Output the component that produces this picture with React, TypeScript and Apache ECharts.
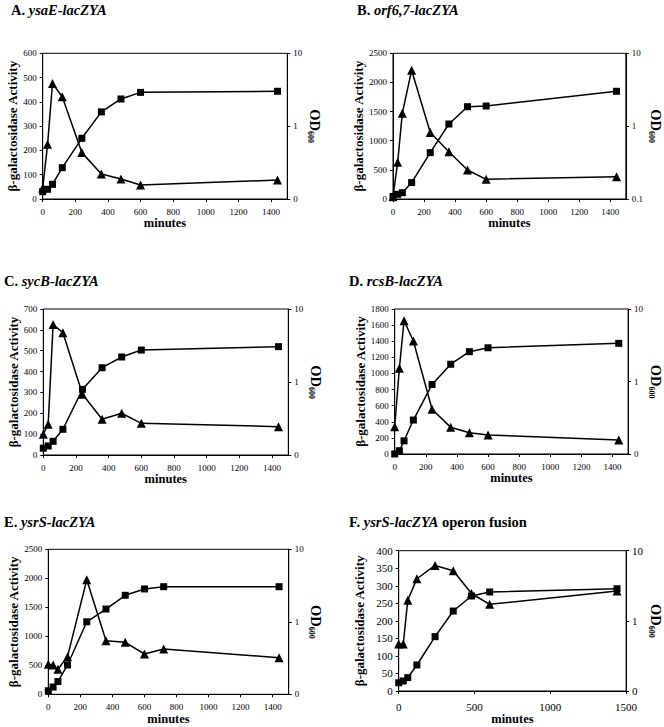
import React, { useEffect, useRef } from "react";
import * as echarts from "echarts";

// ---- data ----
const TIMES = [0, 30, 60, 120, 240, 360, 480, 600, 1440];
const TIMES_E = [0, 30, 60, 120, 240, 360, 480, 600, 720, 1440];

const A_BGAL = [45, 225, 476, 421, 191, 103, 82, 58, 78];
const A_OD = [0.126, 0.136, 0.159, 0.269, 0.681, 1.57, 2.36, 2.91, 3.01];

const B_BGAL = [40, 629, 1470, 2210, 1140, 812, 498, 338, 383];
const B_OD = [0.108, 0.116, 0.122, 0.168, 0.433, 1.07, 1.85, 1.89, 3.01];

const C_BGAL = [100, 148, 626, 586, 291, 171, 200, 152, 136];
const C_OD = [0.124, 0.133, 0.154, 0.225, 0.794, 1.57, 2.2, 2.74, 3.05];

const D_BGAL = [339, 1064, 1655, 1403, 555, 331, 264, 236, 174];
const D_OD = [0.1, 0.111, 0.152, 0.294, 0.91, 1.73, 2.58, 2.92, 3.36];

const E_BGAL = [517, 506, 431, 649, 1975, 925, 897, 695, 782, 632];
const E_OD = [0.112, 0.126, 0.15, 0.254, 1.0, 1.5, 2.32, 2.84, 3.05, 3.05];

const F_BGAL = [134, 134, 259, 320, 358, 343, 278, 247, 285];
const F_OD = [0.131, 0.139, 0.155, 0.235, 0.595, 1.38, 2.26, 2.58, 2.87];

const LEFT_NAME = "β-galactosidase Activity";
const X_NAME = "minutes";

const FONT = '"Liberation Serif", "Times New Roman", serif';

type Panel = {
  letter: string;
  gene: string;
  extra: string;
  times: number[];
  bgal: number[];
  od: number[];
  yMax: number;
  yInt: number;
  xInt: number;
  odLow: string;
  grid: { left: number; top: number; width: number; height: number };
  title: [number, number];
  leftGap: number;
  rightGap: number;
  font: number;
  xNameGap: number;
  xLabelMargin: number;
};

const PANELS: Panel[] = [
  { letter: "A.", gene: "ysaE-lacZYA", extra: "", times: TIMES, bgal: A_BGAL, od: A_OD, yMax: 600, yInt: 100, xInt: 200, odLow: "0",
    grid: { left: 42.7, top: 53.3, width: 244.6, height: 145.7 }, title: [11, 2], leftGap: 23, rightGap: 10, font: 9, xNameGap: 17, xLabelMargin: 8 },
  { letter: "B.", gene: "orf6,7-lacZYA", extra: "", times: TIMES, bgal: B_BGAL, od: B_OD, yMax: 2500, yInt: 500, xInt: 200, odLow: "0.1",
    grid: { left: 393, top: 53.3, width: 240.7, height: 145.7 }, title: [357, 2], leftGap: 27, rightGap: 11, font: 9, xNameGap: 17, xLabelMargin: 8 },
  { letter: "C.", gene: "sycB-lacZYA", extra: "", times: TIMES, bgal: C_BGAL, od: C_OD, yMax: 700, yInt: 100, xInt: 200, odLow: "0",
    grid: { left: 43.3, top: 309, width: 245, height: 146 }, title: [4, 273], leftGap: 24, rightGap: 12, font: 9, xNameGap: 17, xLabelMargin: 8 },
  { letter: "D.", gene: "rcsB-lacZYA", extra: "", times: TIMES, bgal: D_BGAL, od: D_OD, yMax: 1800, yInt: 200, xInt: 200, odLow: "0",
    grid: { left: 394.7, top: 309, width: 239, height: 145 }, title: [349, 273], leftGap: 25, rightGap: 8, font: 9, xNameGap: 17, xLabelMargin: 8 },
  { letter: "E.", gene: "ysrS-lacZYA", extra: "", times: TIMES_E, bgal: E_BGAL, od: E_OD, yMax: 2500, yInt: 500, xInt: 200, odLow: "0",
    grid: { left: 48.3, top: 549.3, width: 240.4, height: 145 }, title: [4, 514], leftGap: 29, rightGap: 19, font: 9, xNameGap: 17, xLabelMargin: 8 },
  { letter: "F.", gene: "ysrS-lacZYA", extra: " operon fusion", times: TIMES, bgal: F_BGAL, od: F_OD, yMax: 400, yInt: 50, xInt: 500, odLow: "0",
    grid: { left: 398.7, top: 550.7, width: 229.3, height: 140.3 }, title: [349, 514], leftGap: 33, rightGap: 12, font: 11, xNameGap: 20, xLabelMargin: 10 },
];

function buildOption() {
  const grid: any[] = [];
  const xAxis: any[] = [];
  const yAxis: any[] = [];
  const series: any[] = [];
  const title: any[] = [];

  PANELS.forEach((p, i) => {
    grid.push({ ...p.grid, show: true, borderColor: "#000", borderWidth: 1, backgroundColor: "transparent" });
    title.push({
      text: `{b|${p.letter} }{i|${p.gene}}` + (p.extra ? `{b|${p.extra}}` : ""),
      left: p.title[0],
      top: p.title[1],
      padding: 0,
      textStyle: {
        rich: {
          b: { fontFamily: FONT, fontSize: 14.5, fontWeight: "bold", color: "#000" },
          i: { fontFamily: FONT, fontSize: 14.5, fontWeight: "bold", fontStyle: "italic", color: "#000" },
        },
      },
    });
    const axisLine = { show: true, lineStyle: { color: "#000", width: 1 } };
    const axisTick = { show: true, inside: false, length: 3, lineStyle: { color: "#000" } };
    const labelStyle = { color: "#000", fontFamily: FONT, fontSize: p.font };
    const plain = (v: number) => String(v);
    xAxis.push({
      gridIndex: i,
      type: "value",
      min: 0,
      max: 1500,
      interval: p.xInt,
      axisLine: { ...axisLine, onZero: false },
      axisTick,
      splitLine: { show: false },
      axisLabel: { ...labelStyle, margin: p.xLabelMargin, showMaxLabel: p.xInt === 500, formatter: plain },
      name: X_NAME,
      nameLocation: "middle",
      nameGap: p.xNameGap,
      nameTextStyle: { fontFamily: FONT, fontSize: 12.5, fontWeight: "bold", color: "#000" },
    });
    yAxis.push({
      gridIndex: i,
      type: "value",
      position: "left",
      min: 0,
      max: p.yMax,
      interval: p.yInt,
      axisLine,
      axisTick,
      splitLine: { show: false },
      axisLabel: { ...labelStyle, margin: 6, formatter: plain },
      name: LEFT_NAME,
      nameLocation: "middle",
      nameRotate: 90,
      nameGap: p.leftGap - 0.5,
      nameTextStyle: { fontFamily: FONT, fontSize: 13, fontWeight: "bold", color: "#000" },
    });
    const low = p.odLow;
    yAxis.push({
      gridIndex: i,
      type: "log",
      logBase: 10,
      position: "right",
      min: 0.1,
      max: 10,
      axisLine,
      axisTick,
      minorTick: { show: false },
      splitLine: { show: false },
      axisLabel: { ...labelStyle, margin: 6, formatter: (v: number) => (v < 0.5 ? low : String(Math.round(v))) },
      name: "{a|OD}{s|600}",
      nameLocation: "middle",
      nameRotate: -90,
      nameGap: p.rightGap,
      nameTextStyle: {
        rich: {
          a: { fontFamily: FONT, fontSize: 14.5, fontWeight: "bold", color: "#000", lineHeight: 17 },
          s: { fontFamily: FONT, fontSize: 8, fontWeight: "bold", color: "#000", verticalAlign: "bottom", lineHeight: 17, padding: [7, 0, 0, 0] },
        },
      },
    });
    const lineStyle = { color: "#000", width: 1.5 };
    series.push({
      type: "line",
      xAxisIndex: i,
      yAxisIndex: i * 2,
      data: p.times.map((t, k) => [t, p.bgal[k]]),
      symbol: "triangle",
      symbolSize: 9,
      lineStyle,
      itemStyle: { color: "#000" },
      z: 3,
    });
    series.push({
      type: "line",
      xAxisIndex: i,
      yAxisIndex: i * 2 + 1,
      data: p.times.map((t, k) => [t, p.od[k]]),
      symbol: "rect",
      symbolSize: 7,
      lineStyle,
      itemStyle: { color: "#000" },
      z: 4,
    });
  });

  return {
    animation: false,
    backgroundColor: "#fff",
    textStyle: { fontFamily: FONT },
    title,
    grid,
    xAxis,
    yAxis,
    series,
  };
}

export default function App() {
  const ref = useRef<HTMLDivElement>(null);
  useEffect(() => {
    if (!ref.current) return;
    const chart = echarts.init(ref.current, undefined, { renderer: "svg" });
    chart.setOption(buildOption() as any);
    return () => chart.dispose();
  }, []);
  return (
    <div
      ref={ref}
      style={{ position: "absolute", left: 0, top: 0, width: 664, height: 727, background: "#fff" }}
    />
  );
}
